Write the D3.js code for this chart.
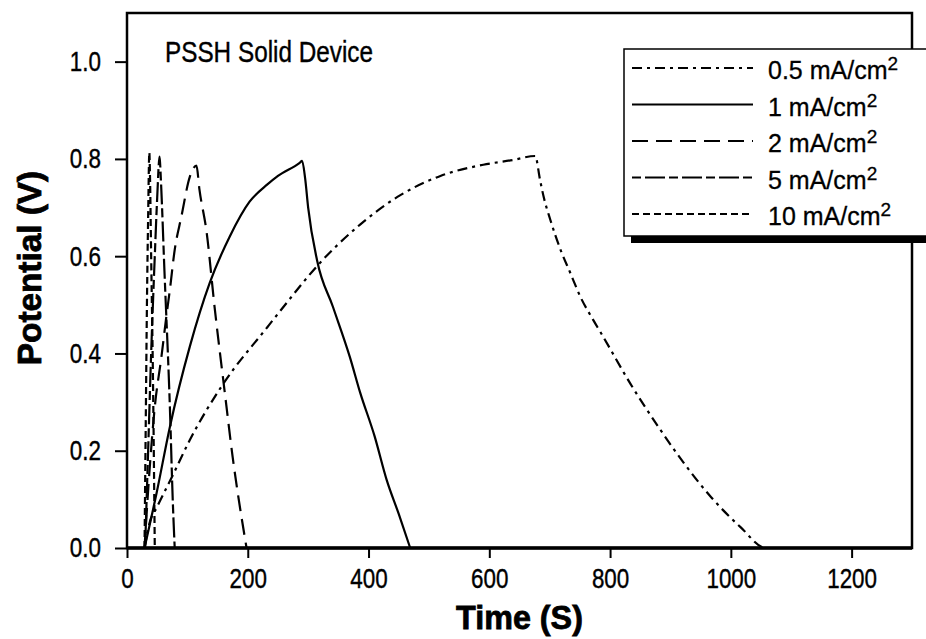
<!DOCTYPE html>
<meta charset="utf-8">
<style>
body { margin: 0; background: #fff; }
.curve { fill: none; stroke: #000; stroke-width: 2.2px; stroke-linejoin: round; }
.tick-label { font-family: "Liberation Sans", Arial, sans-serif; font-size: 28px; fill: #000; stroke: #000; stroke-width: 0.4px; }
.axis-title { font-family: "Liberation Sans", Arial, sans-serif; font-weight: bold; font-size: 34px; fill: #000; stroke: #000; stroke-width: 0.8px; }
.legend-text { font-family: "Liberation Sans", Arial, sans-serif; font-size: 25px; fill: #000; stroke: #000; stroke-width: 0.3px; }
</style>
<body>
<script src="https://d3js.org/d3.v7.min.js"></script>
<script>

// data: time (s) and potential (V) per current density
var t05 = [29, 37, 50, 76, 104, 158, 233, 265, 315, 386, 452, 519, 590, 640, 676, 684, 690, 701, 718, 734, 751, 772, 784, 837, 880, 922, 967, 1016, 1058, 1300];
var v05 = [0, 0.05, 0.085, 0.15, 0.222, 0.335, 0.455, 0.505, 0.58, 0.665, 0.725, 0.765, 0.788, 0.798, 0.806, 0.757, 0.722, 0.675, 0.613, 0.566, 0.516, 0.469, 0.444, 0.331, 0.249, 0.175, 0.105, 0.043, 0, 0];

var t1 = [29, 49, 71, 104, 137, 170, 203, 233, 250, 286, 290, 295, 300, 315, 341, 369, 386, 410, 430, 450, 469];
var v1 = [0, 0.113, 0.249, 0.414, 0.545, 0.64, 0.712, 0.748, 0.765, 0.792, 0.796, 0.76, 0.70, 0.59, 0.496, 0.393, 0.32, 0.23, 0.14, 0.07, 0];

var t2 = [29, 37, 46, 57, 66, 71, 79, 90, 104, 115, 120, 132, 145, 162, 175, 198];
var v2 = [0, 0.154, 0.29, 0.393, 0.484, 0.531, 0.613, 0.681, 0.763, 0.786, 0.737, 0.648, 0.496, 0.319, 0.187, 0];

var t5 = [30, 35, 40, 46, 50, 54, 56, 62, 71, 76, 79];
var v5 = [0, 0.2, 0.4, 0.6, 0.72, 0.805, 0.76, 0.57, 0.29, 0.09, 0];

var t10 = [29, 31, 33, 35, 37, 38, 40, 43, 46];
var v10 = [0, 0.25, 0.5, 0.68, 0.813, 0.77, 0.6, 0.35, 0];

var seriesNames = ["0.5", "1", "2", "5", "10"];
var seriesTimes = [t05, t1, t2, t5, t10];
var seriesValues = [v05, v1, v2, v5, v10];
var dashes = ["10,5,3,5", null, "16,8", "9,4,20,4", "7,4"];

var xTicks = [0, 200, 400, 600, 800, 1000, 1200];
var yTicks = [0.0, 0.2, 0.4, 0.6, 0.8, 1.0];

// set the dimensions and margins of the graph
var margin = {top: 13, right: 14, bottom: 91, left: 127},
    width = 926 - margin.left - margin.right,
    height = 639 - margin.top - margin.bottom;

var x = d3.scaleLinear().domain([0, 1300]).range([0, width]);
var y = d3.scaleLinear().domain([0, 1.1]).range([height, 0]);

var svg = d3.select("body").append("svg")
    .attr("width", 926)
    .attr("height", 639);

var g = svg.append("g")
    .attr("transform", "translate(" + margin.left + "," + margin.top + ")");

// squeeze text horizontally to mimic the condensed face of the original
function condense(sel, r) {
  sel.each(function() {
    var w = this.getComputedTextLength();
    d3.select(this).attr("textLength", w * r).attr("lengthAdjust", "spacingAndGlyphs");
  });
}

var line = d3.line()
    .curve(d3.curveMonotoneX)
    .x(function(d) { return x(d[0]); })
    .y(function(d) { return y(d[1]); });

// curves
seriesTimes.forEach(function(ts, i) {
  var pts = ts.map(function(t, j) { return [t, seriesValues[i][j]]; });
  g.append("path")
      .datum(pts)
      .attr("class", "curve")
      .attr("stroke-dasharray", dashes[i])
      .attr("d", line);
});

// axes
var xAxis = g.append("g")
    .attr("transform", "translate(0," + height + ")")
    .call(d3.axisBottom(x).tickValues(xTicks).tickSize(10).tickPadding(10).tickFormat(d3.format("d")));
var yAxis = g.append("g")
    .call(d3.axisLeft(y).tickValues(yTicks).tickSize(12).tickPadding(14).tickFormat(d3.format(".1f")));

[xAxis, yAxis].forEach(function(a) {
  a.select(".domain").remove();
  a.selectAll("line").attr("stroke", "#000").attr("stroke-width", 2);
  a.selectAll("text").attr("class", "tick-label").attr("font-size", null).attr("font-family", null);
  condense(a.selectAll("text"), 0.8);
});

// frame
g.append("rect")
    .attr("x", 0).attr("y", 0)
    .attr("width", width).attr("height", height)
    .attr("fill", "none").attr("stroke", "#000").attr("stroke-width", 2.5);
g.append("line")
    .attr("x1", 0).attr("x2", width)
    .attr("y1", height).attr("y2", height)
    .attr("stroke", "#000").attr("stroke-width", 3.5);

// titles
var title = g.append("text")
    .attr("class", "tick-label")
    .attr("x", 38).attr("y", 49)
    .style("font-size", "30px")
    .text("PSSH Solid Device");
condense(title, 0.81);

var xTitle = svg.append("text")
    .attr("class", "axis-title")
    .attr("x", margin.left + width / 2).attr("y", 629)
    .attr("text-anchor", "middle")
    .text("Time (S)");
condense(xTitle, 0.95);

var yTitle = svg.append("text")
    .attr("class", "axis-title")
    .attr("transform", "translate(41,268) rotate(-90)")
    .attr("text-anchor", "middle")
    .text("Potential (V)");
condense(yTitle, 0.98);

// legend
var legend = svg.append("g");
legend.append("rect")
    .attr("x", 631).attr("y", 236)
    .attr("width", 320).attr("height", 7)
    .attr("fill", "#000");
legend.append("rect")
    .attr("x", 624).attr("y", 49)
    .attr("width", 320).attr("height", 187)
    .attr("fill", "#fff").attr("stroke", "#000").attr("stroke-width", 1.5);

seriesNames.forEach(function(name, i) {
  var ly = 68 + i * 36.5;
  legend.append("line")
      .attr("x1", 632).attr("x2", 753)
      .attr("y1", ly).attr("y2", ly)
      .attr("stroke", "#000").attr("stroke-width", 2)
      .attr("stroke-dasharray", dashes[i]);
  var txt = legend.append("text")
      .attr("class", "legend-text")
      .attr("x", 768).attr("y", ly + 11);
  txt.append("tspan").text(name + " mA/cm");
  txt.append("tspan").attr("dy", -9).style("font-size", "19px").text("2");
});

</script>
</body>
